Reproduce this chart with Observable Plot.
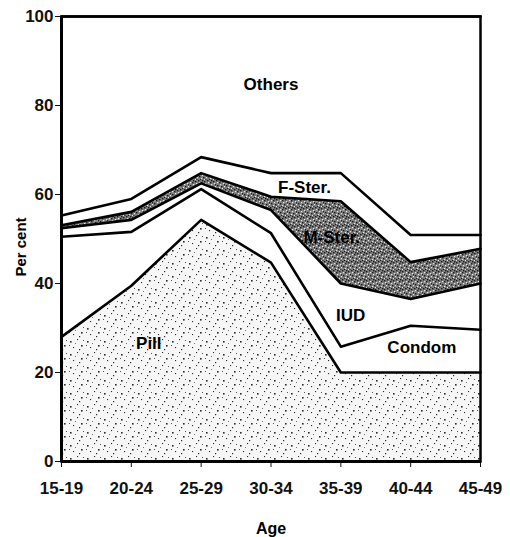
<!DOCTYPE html>
<html>
<head>
<meta charset="utf-8">
<script src="https://cdn.jsdelivr.net/npm/d3@7"></script>
<script src="https://cdn.jsdelivr.net/npm/@observablehq/plot@0.6"></script>
<style>
  html, body { margin: 0; padding: 0; background: #fff; }
  #chart svg { display: block; }
</style>
</head>
<body>
<div id="chart"></div>
<script>
// Data (percent of contraceptive users by method, by age group)
const ages = ["15-19", "20-24", "25-29", "30-34", "35-39", "40-44", "45-49"];
const methods = ["Pill", "Condom", "IUD", "M-Ster.", "F-Ster.", "Others"];
const pill   = [28.0, 39.5, 54.3, 44.7, 20.0, 20.0, 20.0];
const condom = [22.5, 12.1,  6.9,  6.6,  5.8, 10.5,  9.6];
const iud    = [ 1.9,  2.7,  1.3,  5.2, 14.2,  6.0, 10.4];
const mSter  = [ 0.7,  1.8,  2.3,  3.0, 18.5,  8.3,  7.8];
const fSter  = [ 2.2,  2.9,  3.6,  5.3,  6.3,  6.1,  3.1];
const others = [44.7, 41.0, 31.6, 35.2, 35.2, 49.1, 49.1];
const yTicks = [0, 20, 40, 60, 80, 100];
const xTitle = "Age";
const yTitle = "Per cent";

// in-chart series labels (x as age index, y in per cent)
const labelText = ["Others", "F-Ster.", "M-Ster.", "IUD", "Condom", "Pill"];
const labelAge  = [3.0, 3.48, 3.87, 4.14, 5.16, 1.25];
const labelPct  = [84.8, 61.5, 50.4, 32.9, 25.7, 26.6];

const seriesValues = [pill, condom, iud, mSter, fSter, others];
const tidy = [];
methods.forEach((m, k) => {
  ages.forEach((a, i) => tidy.push({method: m, i, value: seriesValues[k][i]}));
});
const labels = labelText.map((t, k) => ({text: t, i: labelAge[k], value: labelPct[k]}));

const plot = Plot.plot({
  width: 510,
  height: 537,
  marginLeft: 61,
  marginRight: 30,
  marginTop: 16,
  marginBottom: 76,
  style: {
    fontFamily: "'Liberation Sans', Arial, Helvetica, sans-serif",
    fontWeight: "bold",
    fontSize: "17px",
    background: "#fff",
    color: "#111"
  },
  x: {
    type: "linear",
    domain: [0, 6],
    ticks: d3.range(ages.length),
    tickFormat: i => ages[i],
    tickSize: 6,
    tickPadding: 14,
    label: null
  },
  y: {
    domain: [0, 100],
    ticks: yTicks,
    tickSize: 6,
    tickPadding: 2,
    label: null
  },
  color: {
    type: "ordinal",
    domain: methods,
    range: ["url(#stipLight)", "#fff", "#fff", "url(#stipDark)", "#fff", "#fff"]
  },
  marks: [
    Plot.areaY(tidy, {x: "i", y: "value", z: "method", fill: "method", order: methods}),
    Plot.lineY(tidy, Plot.stackY2({x: "i", y: "value", z: "method", order: methods,
      stroke: "#000", strokeWidth: 2.6, strokeLinejoin: "round"})),
    Plot.text(labels, {x: "i", y: "value", text: "text", fill: "#000",
      fontSize: 17, fontWeight: "bold"}),
    Plot.frame({stroke: "#000", strokeWidth: 2.5}),
    Plot.ruleY([0], {stroke: "#000", strokeWidth: 3}),
    Plot.ruleX([0], {stroke: "#000", strokeWidth: 3}),
    Plot.text([xTitle], {frameAnchor: "bottom", dy: 72, fill: "#000", fontSize: 16, fontWeight: "bold"}),
    Plot.text([yTitle], {frameAnchor: "left", rotate: -90, textAnchor: "middle", lineAnchor: "middle",
      dx: -40, dy: 8, fill: "#000", fontSize: 15, fontWeight: "bold"})
  ]
});

// stipple textures
const svg = d3.select(plot);
const defs = svg.insert("defs", ":first-child");
const light = defs.append("pattern").attr("id", "stipLight")
  .attr("patternUnits", "userSpaceOnUse").attr("width", 17).attr("height", 13);
light.append("rect").attr("width", 17).attr("height", 13).attr("fill", "#f6f6f6");
[[2,3,1.6],[9,1,1.1],[13,7,1.6],[5,9,1.1],[11,11,1.2],[1,7,0.9],[15,2,0.9],[7,5,0.8]].forEach(([x,y,s]) =>
  light.append("rect").attr("x", x).attr("y", y).attr("width", s).attr("height", s).attr("fill", "#2a2a2a"));
const dark = defs.append("pattern").attr("id", "stipDark")
  .attr("patternUnits", "userSpaceOnUse").attr("width", 9).attr("height", 9);
dark.append("rect").attr("width", 9).attr("height", 9).attr("fill", "#7e7e7e");
[[0,0],[3,2],[6,1],[1,5],[5,6],[8,4],[2,8],[7,8],[4,0]].forEach(([x,y]) =>
  dark.append("rect").attr("x", x).attr("y", y).attr("width", 1.4).attr("height", 1.4).attr("fill", "#1a1a1a"));
[[4,4],[7,3],[1,2],[3,7],[6,8],[8,6]].forEach(([x,y]) =>
  dark.append("rect").attr("x", x).attr("y", y).attr("width", 1.2).attr("height", 1.2).attr("fill", "#e8e8e8"));

document.getElementById("chart").appendChild(plot);
</script>
</body>
</html>
